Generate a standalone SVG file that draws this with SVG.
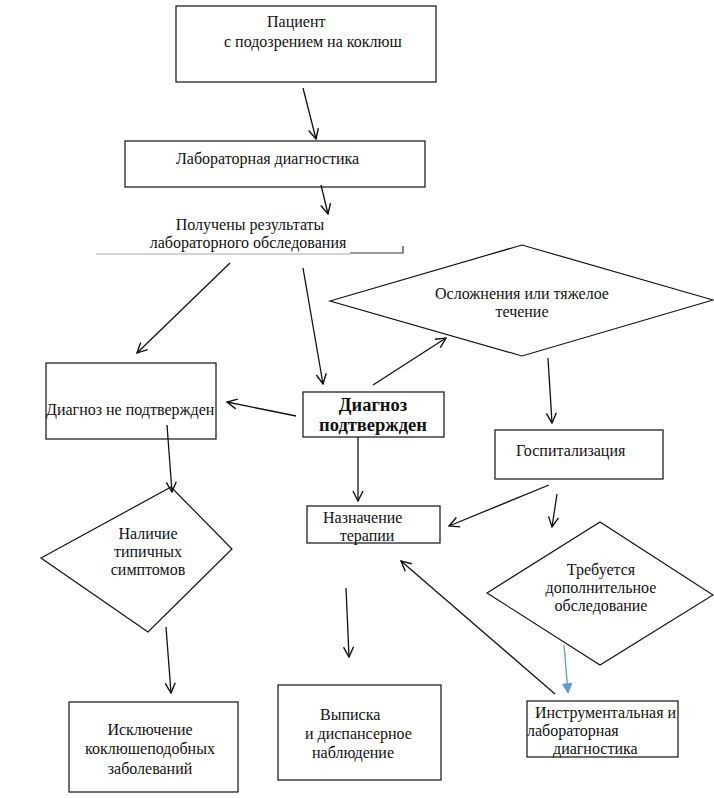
<svg xmlns="http://www.w3.org/2000/svg" width="714" height="798" viewBox="0 0 714 798">
<style>
.box{fill:#fff;stroke:#222;stroke-width:1.3}
.dia{fill:#fff;stroke:#111;stroke-width:1.2}
.t{font-family:"Liberation Serif","Times New Roman",serif;font-size:16px;fill:#111}
.c{text-anchor:middle}
.b{font-weight:bold;font-size:18.5px}
.ln{stroke:#111;stroke-width:1.3;fill:none;marker-end:url(#ah)}
.blue{stroke:#5b9bd5;stroke-width:1.3;fill:none;marker-end:url(#bh)}
</style>
<defs>
<marker id="ah" viewBox="0 0 12 12" refX="11" refY="6" markerWidth="12" markerHeight="12" markerUnits="userSpaceOnUse" orient="auto">
<path d="M1,1 L11,6 L1,11" fill="none" stroke="#111" stroke-width="1.4"/>
</marker>
<marker id="bh" viewBox="0 0 12 12" refX="11" refY="6" markerWidth="11" markerHeight="11" markerUnits="userSpaceOnUse" orient="auto">
<path d="M1,1 L11,6 L1,11 Z" fill="#5b9bd5" stroke="#5b9bd5" stroke-width="1"/>
</marker>
</defs>
<rect width="714" height="798" fill="#fff"/>

<g id="patient">
<rect class="box" x="176" y="6" width="260" height="76"/>
<text class="t" x="267" y="27">Пациент</text>
<text class="t" x="224" y="47">с подозрением на коклюш</text>
</g>

<g id="lab">
<rect class="box" x="125" y="141" width="300" height="46"/>
<text class="t" x="176" y="164">Лабораторная диагностика</text>
</g>

<g id="results">
<text class="t c" x="250" y="230">Получены результаты</text>
<text class="t c" x="248" y="248">лабораторного обследования</text>
<line x1="96" y1="254" x2="350" y2="254" stroke="#aaa" stroke-width="1.2"/>
<polyline points="350,253 403,253 403,246" fill="none" stroke="#333" stroke-width="1.2"/>
</g>

<g id="complications">
<polygon class="dia" points="330,301 522,245 713,300 522,356"/>
<text class="t c" x="522" y="299">Осложнения или тяжелое</text>
<text class="t c" x="522" y="317">течение</text>
</g>

<g id="not-confirmed">
<rect class="box" x="46" y="363" width="170" height="76"/>
<text class="t" x="46" y="415">Диагноз не подтвержден</text>
</g>

<g id="confirmed">
<rect class="box" x="303" y="392" width="141" height="45"/>
<text class="t c b" x="373" y="411">Диагноз</text>
<text class="t c b" x="373" y="431">подтвержден</text>
</g>

<g id="hospital">
<rect class="box" x="495" y="430" width="168" height="49"/>
<text class="t" x="516" y="456">Госпитализация</text>
</g>

<g id="therapy">
<rect class="box" x="307" y="506" width="133" height="37"/>
<text class="t" x="323" y="523">Назначение</text>
<text class="t c" x="367" y="541">терапии</text>
</g>

<g id="symptoms">
<polygon class="dia" points="41,558 171,487 232,549 148,632"/>
<text class="t c" x="148" y="539">Наличие</text>
<text class="t c" x="148" y="557">типичных</text>
<text class="t c" x="148" y="575">симптомов</text>
</g>

<g id="extra-exam">
<polygon class="dia" points="487,593 600,522 713,595 600,665"/>
<text class="t c" x="601" y="575">Требуется</text>
<text class="t c" x="601" y="593">дополнительное</text>
<text class="t c" x="601" y="611">обследование</text>
</g>

<g id="exclusion">
<rect class="box" x="69" y="702" width="169" height="90"/>
<text class="t c" x="150" y="735">Исключение</text>
<text class="t c" x="150" y="754">коклюшеподобных</text>
<text class="t c" x="150" y="774">заболеваний</text>
</g>

<g id="discharge">
<rect class="box" x="278" y="685" width="163" height="95"/>
<text class="t" x="320" y="720">Выписка</text>
<text class="t" x="305" y="739">и диспансерное</text>
<text class="t" x="312" y="758">наблюдение</text>
</g>

<g id="instrumental">
<rect class="box" x="527" y="701" width="151" height="56"/>
<text class="t" x="535" y="718">Инструментальная и</text>
<text class="t" x="527" y="736">лабораторная</text>
<text class="t" x="553" y="754">диагностика</text>
</g>

<g id="connectors">
<line class="ln" x1="303" y1="88" x2="316" y2="139"/>
<line class="ln" x1="321" y1="185" x2="328" y2="214"/>
<line class="ln" x1="230" y1="263" x2="137" y2="353"/>
<line class="ln" x1="303" y1="268" x2="323" y2="384"/>
<line class="ln" x1="373" y1="385" x2="446" y2="338"/>
<line class="ln" x1="296" y1="416" x2="227" y2="402"/>
<line class="ln" x1="548" y1="358" x2="552" y2="423"/>
<line class="ln" x1="167" y1="425" x2="172" y2="492"/>
<line class="ln" x1="358" y1="437" x2="358" y2="501"/>
<line class="ln" x1="549" y1="485" x2="449" y2="526"/>
<line class="ln" x1="557" y1="494" x2="552" y2="527"/>
<line class="ln" x1="166" y1="627" x2="171" y2="693"/>
<line class="ln" x1="555" y1="694" x2="401" y2="561"/>
<line class="ln" x1="346" y1="588" x2="349" y2="657"/>
<line class="blue" x1="564" y1="645" x2="568" y2="693"/>
</g>
</svg>
